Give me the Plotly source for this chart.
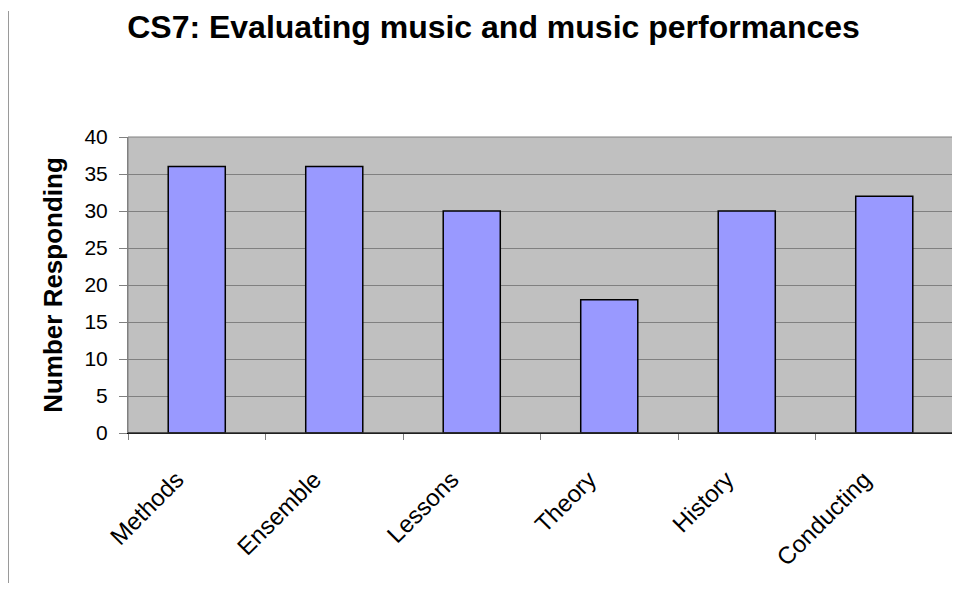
import plotly.graph_objects as go

categories = ["Methods", "Ensemble", "Lessons", "Theory", "History", "Conducting"]
values = [36, 36, 30, 18, 30, 32]
y_ticks = [0, 5, 10, 15, 20, 25, 30, 35, 40]

FONT = "Liberation Sans, Arial, sans-serif"

fig = go.Figure(
    go.Bar(
        x=categories,
        y=values,
        marker=dict(color="#9999FF", line=dict(color="#000000", width=1.5)),
        width=0.415,
    )
)

# the page body has an 8px margin, so the figure is 8px smaller than the window
W, H = 952, 585
ML, MR, MT, MB = 120, 7, 129, 160
PW, PH = W - ML - MR, H - MT - MB

fig.update_layout(
    width=W,
    height=H,
    margin=dict(l=ML, r=MR, t=MT, b=MB),
    paper_bgcolor="white",
    plot_bgcolor="#C0C0C0",
    showlegend=False,
    title=dict(
        text="<b>CS7: Evaluating music and music performances</b>",
        x=0.51,
        xanchor="center",
        y=0.968,
        yanchor="middle",
        automargin=False,
        font=dict(family=FONT, size=32, color="black"),
    ),
    font=dict(family=FONT, color="black"),
)

fig.update_xaxes(
    automargin=False,
    tickangle=-45,
    tickfont=dict(size=24, family=FONT),
    tickson="boundaries",
    ticks="outside",
    ticklen=6,
    tickcolor="#808080",
    ticklabelstandoff=22,
    ticklabelshift=-20,
    showline=True,
    linecolor="black",
    linewidth=1,
    mirror=False,
    showgrid=False,
)

fig.update_yaxes(
    automargin=False,
    range=[0, 40],
    tickvals=y_ticks,
    tickfont=dict(size=21, family=FONT),
    ticks="outside",
    ticklen=8,
    tickcolor="#808080",
    ticklabelstandoff=7,
    showline=True,
    linecolor="#808080",
    linewidth=1,
    showgrid=True,
    gridcolor="#808080",
    gridwidth=1,
    zeroline=False,
    title=dict(text="<b>Number Responding</b>", font=dict(size=26, family=FONT), standoff=14),
)

# plot border on top and right
fig.add_shape(type="rect", xref="paper", yref="paper", x0=0, x1=1, y0=0, y1=1,
              line=dict(color="#808080", width=1), fillcolor="rgba(0,0,0,0)", layer="above")
fig.add_shape(type="line", xref="paper", yref="paper", x0=0, x1=1, y0=0, y1=0,
              line=dict(color="black", width=1.2), layer="above")
# left vertical page rule (page x = 8 -> figure x = 0.5)
plot_bottom = MT + PH
fig.add_shape(type="line", xref="paper", yref="paper",
              x0=(0.5 - ML) / PW, x1=(0.5 - ML) / PW,
              y0=(plot_bottom - 575) / PH, y1=(plot_bottom - 3) / PH,
              line=dict(color="#9a9a9a", width=1))

fig.write_html("out.html")
